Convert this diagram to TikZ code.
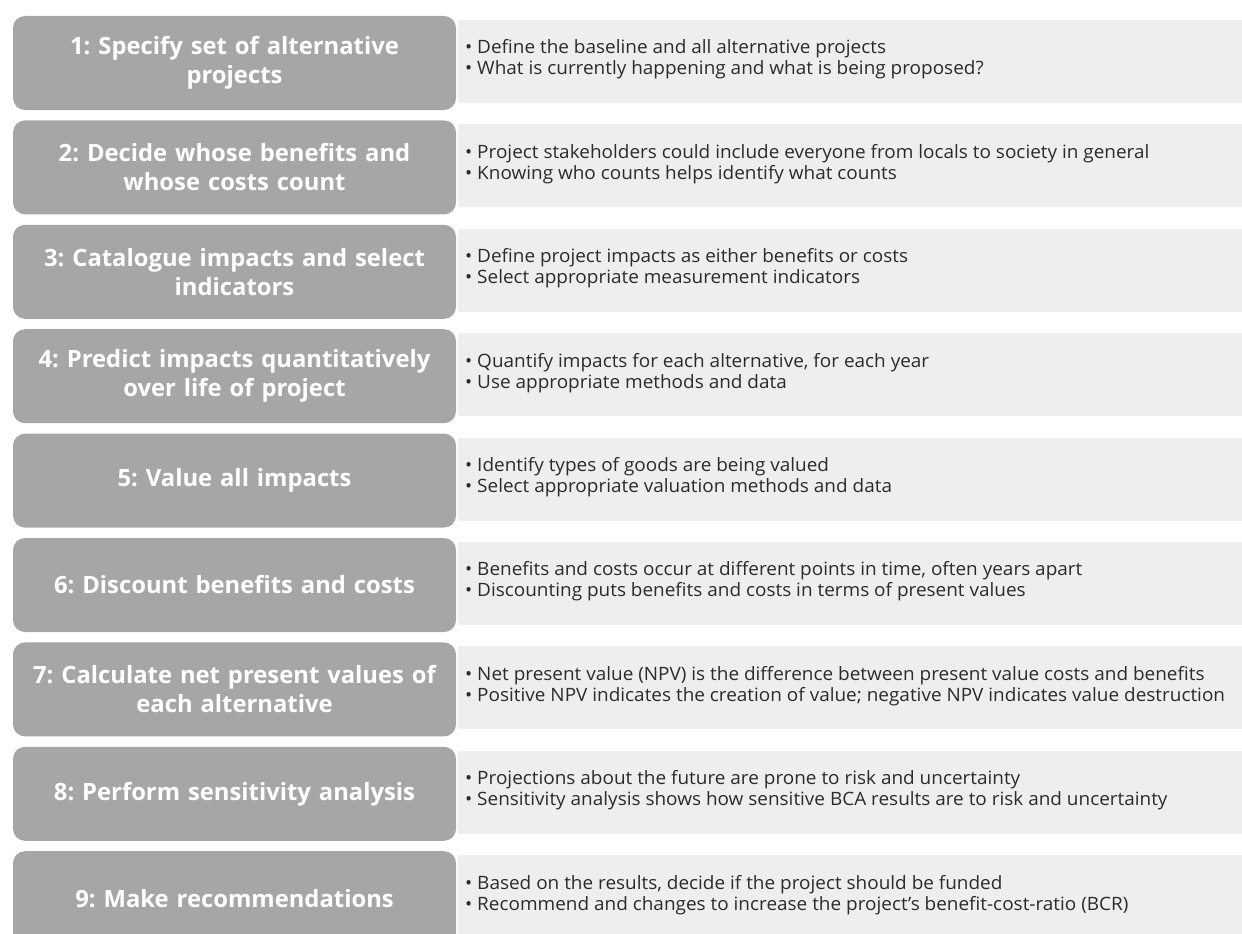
\documentclass[tikz,border=0pt]{standalone}
\usepackage{fontspec}
\setmainfont{Open Sans}
\newfontfamily\notefont[FakeStretch=1.03]{Open Sans}
\frenchspacing
\definecolor{stepgray}{HTML}{A6A6A6}
\definecolor{notegray}{HTML}{EEEEEE}
\definecolor{notetext}{HTML}{2B2B2B}
\tikzset{
  stepbox/.style={fill=stepgray, rounded corners=12pt, minimum width=443pt, minimum height=94pt,
    inner sep=0pt, text=white, align=center, text width=440pt,
    font=\fontsize{23.8}{29}\selectfont\bfseries},
  notebox/.style={fill=notegray, minimum width=784pt, minimum height=83pt, inner sep=0pt},
  notetxt/.style={anchor=west, align=left, text=notetext, inner sep=0pt,
    font=\notefont\fontsize{18.4}{21}\selectfont}
}
\begin{document}
\begin{tikzpicture}[x=1pt,y=-1pt]
\useasboundingbox (0,0) rectangle (1242,934);
\fill[white] (0,0) rectangle (1242,934);
\foreach \i/\title/\lineA/\lineB in {
  1/{1: Specify set of alternative\\projects}/{Define the baseline and all alternative projects}/{What is currently happening and what is being proposed?},
  2/{2: Decide whose benefits and\\whose costs count}/{Project stakeholders could include everyone from locals to society in general}/{Knowing who counts helps identify what counts},
  3/{3: Catalogue impacts and select\\indicators}/{Define project impacts as either benefits or costs}/{Select appropriate measurement indicators},
  4/{4: Predict impacts quantitatively\\over life of project}/{Quantify impacts for each alternative, for each year}/{Use appropriate methods and data},
  5/{5: Value all impacts}/{Identify types of goods are being valued}/{Select appropriate valuation methods and data},
  6/{6: Discount benefits and costs}/{Benefits and costs occur at different points in time, often years apart}/{Discounting puts benefits and costs in terms of present values},
  7/{7: Calculate net present values of\\each alternative}/{Net present value (NPV) is the difference between present value costs and benefits}/{Positive NPV indicates the creation of value; negative NPV indicates value destruction},
  8/{8: Perform sensitivity analysis}/{Projections about the future are prone to risk and uncertainty}/{Sensitivity analysis shows how sensitive BCA results are to risk and uncertainty},
  9/{9: Make recommendations}/{Based on the results, decide if the project should be funded}/{Recommend and changes to increase the project’s benefit-cost-ratio (BCR)}}
{
  \pgfmathsetmacro{\mid}{63+104.4*(\i-1)}
  \node[notebox, anchor=west] (n\i) at (458,\mid-1.5) {};
  \node[stepbox] (s\i) at (234.5,\mid) {\title};
  \node[notetxt] (t\i) at (465,\mid-3.5) {• \lineA\\• \lineB};
}
\end{tikzpicture}
\end{document}
